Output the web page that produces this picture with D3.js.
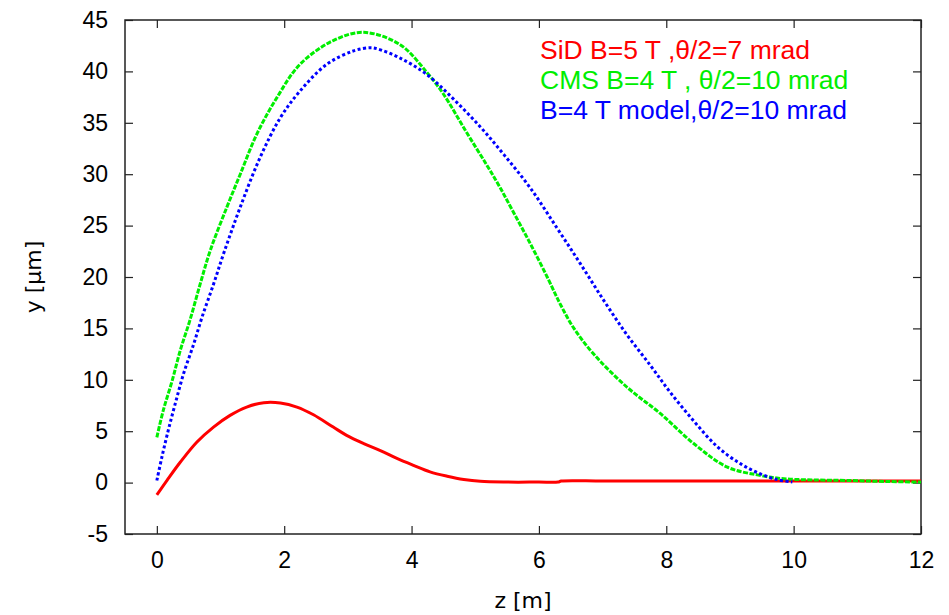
<!DOCTYPE html>
<html>
<head>
<meta charset="utf-8">
<script src="https://cdn.jsdelivr.net/npm/d3@7"></script>
<style>
  body { margin: 0; background: #fff; }
  svg { display: block; }
</style>
</head>
<body>
<script>
// curves: z [m] and y [um]
const sidZ = [0, 0.16, 0.37, 0.63, 0.89, 1.15, 1.41, 1.68, 1.94, 2.2, 2.46, 2.77, 2.98, 3.25, 3.51, 3.77, 4.03, 4.29, 4.56, 4.82, 5.08, 5.5, 6.0, 6.3, 6.35, 7, 8, 9, 10, 11, 12];
const sidY = [-1.2, 0.22, 2.0, 3.95, 5.4, 6.54, 7.35, 7.77, 7.74, 7.35, 6.6, 5.4, 4.6, 3.8, 3.12, 2.35, 1.68, 1.05, 0.62, 0.3, 0.12, 0.05, 0.05, 0.05, 0.15, 0.15, 0.15, 0.15, 0.15, 0.15, 0.15];

const cmsZ = [0, 0.1, 0.24, 0.37, 0.52, 0.68, 0.84, 1.1, 1.31, 1.57, 1.89, 2.25, 2.77, 3.25, 3.82, 4.24, 4.5, 4.87, 5.18, 5.39, 5.6, 5.86, 6.13, 6.34, 6.55, 6.86, 7.38, 7.91, 8.43, 8.96, 9.43, 9.8, 10.1, 10.9, 11.5, 12];
const cmsY = [4.4, 7.0, 9.9, 12.9, 15.8, 19.3, 22.6, 26.8, 30.0, 33.9, 37.5, 40.7, 43.0, 43.8, 42.6, 39.9, 37.8, 34.0, 30.9, 28.7, 26.3, 23.3, 20.0, 17.3, 15.0, 12.5, 9.3, 6.7, 3.8, 1.5, 0.75, 0.4, 0.29, 0.2, 0.1, 0.05];

const modelZ = [0, 0.08, 0.18, 0.29, 0.42, 0.58, 0.71, 0.89, 1.05, 1.31, 1.62, 1.94, 2.25, 2.67, 3.09, 3.35, 3.46, 3.82, 4.24, 4.66, 5.08, 5.45, 5.86, 6.28, 6.65, 7.02, 7.38, 7.75, 8.06, 8.43, 8.8, 9.16, 9.47, 9.74, 9.98];
const modelY = [0.2, 2.5, 5.1, 7.7, 10.6, 13.5, 16.1, 19.3, 22.3, 26.8, 31.6, 35.5, 38.1, 40.7, 42.0, 42.3, 42.2, 41.3, 39.7, 37.3, 34.6, 31.9, 28.7, 24.8, 21.3, 17.7, 14.4, 11.4, 8.8, 6.0, 3.5, 1.85, 0.87, 0.29, 0.06];

const xTicks = [0, 2, 4, 6, 8, 10, 12];
const yTicks = [-5, 0, 5, 10, 15, 20, 25, 30, 35, 40, 45];

const legendLabels = ["SiD B=5 T ,\u03b8/2=7 mrad", "CMS B=4 T , \u03b8/2=10 mrad", "B=4 T model,\u03b8/2=10 mrad"];
const colors = ["#ff0000", "#00ee00", "#0000ff"];

const width = 949, height = 615;
const margin = {left: 125, right: 28, top: 20, bottom: 81};

const svg = d3.select("body").append("svg")
  .attr("width", width)
  .attr("height", height);

const x = d3.scaleLinear().domain([-0.5, 12]).range([margin.left, width - margin.right]);
const y = d3.scaleLinear().domain([-5, 45]).range([height - margin.bottom, margin.top]);

const tickFont = "'Liberation Sans', Arial, sans-serif";
const plain = d => String(d); // hyphen minus like the original, not U+2212

// axes with inward ticks on all four sides
const tickLen = 8;
svg.append("g")
  .attr("transform", `translate(0,${y(-5)})`)
  .call(d3.axisBottom(x).tickValues(xTicks).tickFormat(plain).tickSizeInner(-tickLen).tickSizeOuter(0).tickPadding(18))
  .call(g => g.select(".domain").remove());
svg.append("g")
  .attr("transform", `translate(0,${y(45)})`)
  .call(d3.axisTop(x).tickValues(xTicks).tickSizeInner(-tickLen).tickSizeOuter(0).tickFormat(""))
  .call(g => g.select(".domain").remove());
svg.append("g")
  .attr("transform", `translate(${x(-0.5)},0)`)
  .call(d3.axisLeft(y).tickValues(yTicks).tickFormat(plain).tickSizeInner(-tickLen).tickSizeOuter(0).tickPadding(17))
  .call(g => g.select(".domain").remove());
svg.append("g")
  .attr("transform", `translate(${x(12)},0)`)
  .call(d3.axisRight(y).tickValues(yTicks).tickSizeInner(-tickLen).tickSizeOuter(0).tickFormat(""))
  .call(g => g.select(".domain").remove());

svg.selectAll(".tick line").attr("stroke", "#222").attr("stroke-width", 1.2);
svg.selectAll(".tick text")
  .attr("fill", "#000")
  .style("font-family", tickFont)
  .style("font-size", "23px");

// frame
svg.append("rect")
  .attr("x", x(-0.5))
  .attr("y", y(45))
  .attr("width", x(12) - x(-0.5))
  .attr("height", y(-5) - y(45))
  .attr("fill", "none")
  .attr("stroke", "#222")
  .attr("stroke-width", 1.5);

// curves
const line = d3.line().x(d => x(d[0])).y(d => y(d[1])).curve(d3.curveCatmullRom.alpha(0.5));
const series = [
  {z: sidZ, v: sidY, dash: null},
  {z: cmsZ, v: cmsY, dash: "5,1.5"},
  {z: modelZ, v: modelY, dash: "3,2.5"}
];
series.forEach((s, i) => {
  svg.append("path")
    .datum(s.z.map((z, k) => [z, s.v[k]]))
    .attr("fill", "none")
    .attr("stroke", colors[i])
    .attr("stroke-width", 3)
    .attr("stroke-dasharray", s.dash)
    .attr("d", line);
});

// legend text
svg.append("g")
  .selectAll("text")
  .data(legendLabels)
  .join("text")
  .attr("x", 540)
  .attr("y", (d, i) => 59 + i * 30)
  .attr("fill", (d, i) => colors[i])
  .style("font-family", tickFont)
  .style("font-size", "26.5px")
  .text(d => d);

// axis titles
svg.append("text")
  .attr("x", x(5.75))
  .attr("y", 608)
  .attr("text-anchor", "middle")
  .style("font-family", "'DejaVu Sans', sans-serif")
  .style("font-size", "22px")
  .text("z [m]");

svg.append("text")
  .attr("transform", "translate(41,277) rotate(-90)")
  .attr("text-anchor", "middle")
  .style("font-family", "'DejaVu Sans', sans-serif")
  .style("font-size", "22px")
  .text("y [\u03bcm]");
</script>
</body>
</html>
